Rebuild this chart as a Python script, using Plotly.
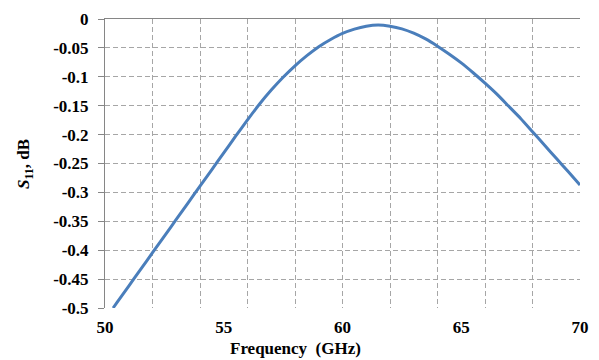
import plotly.graph_objects as go

freq = [50.34, 50.5, 51.0, 51.5, 52.0, 52.5, 53.0, 53.5, 54.0, 54.5, 55.0, 55.5,
        56.0, 56.5, 57.0, 57.5, 58.0, 58.5, 59.0, 59.5, 60.0, 60.5, 61.0, 61.5,
        62.0, 62.5, 63.0, 63.5, 64.0, 64.5, 65.0, 65.5, 66.0, 66.5, 67.0, 67.5,
        68.0, 68.5, 69.0, 69.5, 70.0]
s11_db = [-0.500, -0.4908, -0.462, -0.4332, -0.4044, -0.3756, -0.3468, -0.318, -0.2892,
          -0.2604, -0.2316, -0.2028, -0.1745, -0.1475, -0.123, -0.1008, -0.081, -0.0635,
          -0.048, -0.0355, -0.025, -0.0175, -0.0125, -0.0105, -0.0125, -0.017, -0.0245,
          -0.0345, -0.047, -0.061, -0.076, -0.093, -0.111, -0.130, -0.151, -0.172,
          -0.195, -0.218, -0.241, -0.264, -0.287]

x_tickvals = [50, 55, 60, 65, 70]
x_ticktext = ["50", "55", "60", "65", "70"]
y_tickvals = [0, -0.05, -0.1, -0.15, -0.2, -0.25, -0.3, -0.35, -0.4, -0.45, -0.5]
y_ticktext = ["0", "-0.05", "-0.1", "-0.15", "-0.2", "-0.25", "-0.3", "-0.35", "-0.4", "-0.45", "-0.5"]

FONT = "Liberation Serif"
GRID = "#a6a6a6"
AXIS = "#868686"

fig = go.Figure()
fig.add_trace(go.Scatter(x=freq, y=s11_db, mode="lines",
                         line=dict(color="#4a7ebb", width=3, shape="spline", smoothing=0.6),
                         showlegend=False, hoverinfo="skip"))
# helper invisible trace so the grid axis is drawn
fig.add_trace(go.Scatter(x=[50, 70], y=[-0.5, 0], xaxis="x2", mode="markers",
                         marker=dict(opacity=0), showlegend=False, hoverinfo="skip"))

fig.update_layout(
    width=599, height=360,
    margin=dict(l=105, r=10, t=16, b=52),
    paper_bgcolor="white", plot_bgcolor="white",
    font=dict(family=FONT, size=17, color="black"),
    xaxis=dict(range=[50, 70], tickvals=x_tickvals, ticktext=x_ticktext,
               showgrid=False, zeroline=False, showline=False, ticks="",
               tickfont=dict(family=FONT, size=17, color="black", weight="bold"),
               ticklabelstandoff=7),
    xaxis2=dict(range=[50, 70], overlaying="x", side="top", dtick=2, tick0=50,
                showgrid=True, gridcolor=GRID, griddash="5px,3px", gridwidth=1,
                showticklabels=False, ticks="", showline=True, linecolor=AXIS, linewidth=1,
                zeroline=False),
    yaxis=dict(range=[-0.5, 0], tickvals=y_tickvals, ticktext=y_ticktext,
               showgrid=True, gridcolor=GRID, griddash="5px,3px", gridwidth=1,
               zeroline=False, showline=True, linecolor=AXIS, linewidth=1,
               ticks="outside", ticklen=6, tickcolor=AXIS,
               tickfont=dict(family=FONT, size=17, color="black", weight="bold"),
               ticklabelstandoff=6),
    annotations=[
        dict(text="<b>Frequency  (GHz)</b>", xref="paper", yref="paper",
             x=(299 - 105) / 484, y=-(349 - 308) / 292, xanchor="center", yanchor="middle",
             showarrow=False, font=dict(family=FONT, size=17, color="black")),
        dict(text="<b><i>S</i><sub>11</sub>, dB</b>", xref="paper", yref="paper",
             x=-(105 - 24) / 484, y=(308 - 163) / 292, xanchor="center", yanchor="middle",
             textangle=-90, showarrow=False, font=dict(family=FONT, size=17, color="black")),
    ],
)

fig.write_html("out.html")
